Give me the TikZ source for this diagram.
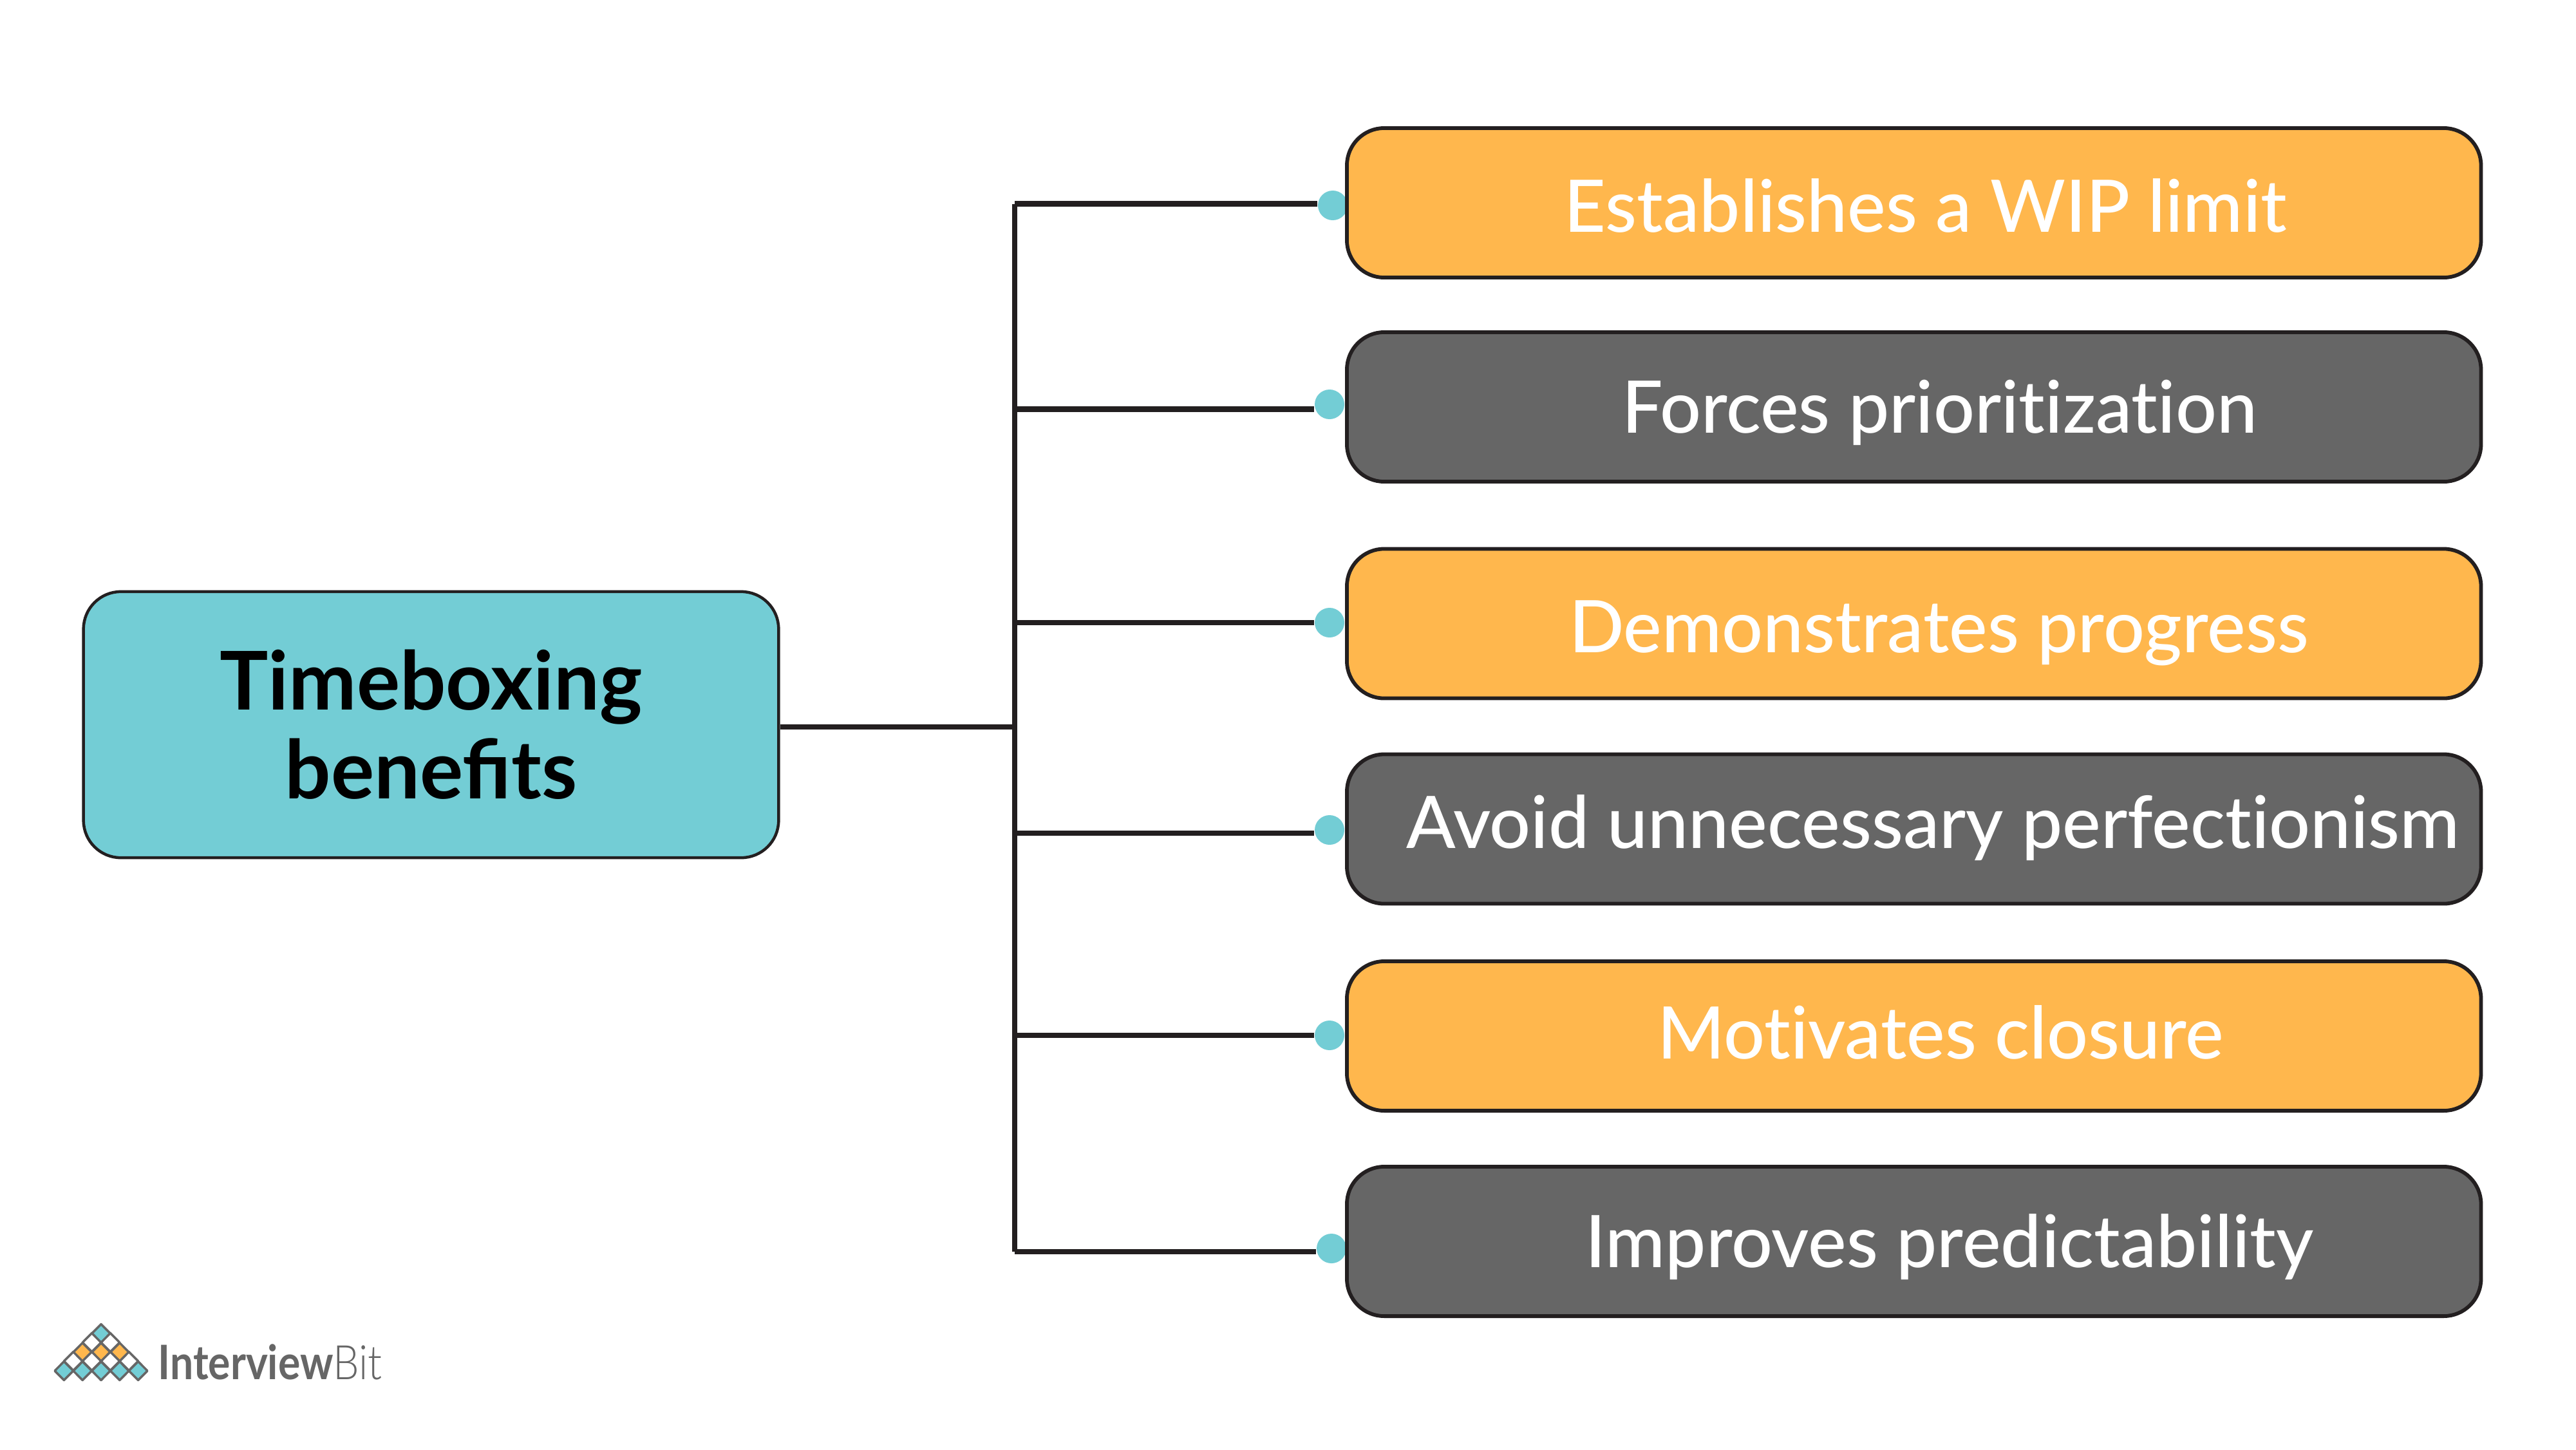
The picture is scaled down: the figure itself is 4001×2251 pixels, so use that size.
\documentclass[tikz,border=0pt]{standalone}
\usepackage{fontspec}
\setmainfont{Lato}
\newfontfamily\itemfont[Ligatures=NoCommon]{Lato Medium}
\newfontfamily\logofont[FakeStretch=0.87]{Lato}
\newfontfamily\logothin[FakeStretch=0.87]{Lato Light}
\definecolor{tealfill}{HTML}{73CDD5}
\definecolor{orangefill}{HTML}{FFB74D}
\definecolor{greyfill}{HTML}{666666}
\definecolor{inkline}{HTML}{231F20}
\tikzset{
	x=0.01cm,y=-0.01cm,
	itembox/.style={draw=inkline,line width=0.58mm,rounded corners=5.8mm,minimum width=176.05mm,minimum height=23.2mm,inner sep=0pt,text=white,text height=10mm,text depth=1mm,font=\fontsize{32}{38}\selectfont\itemfont},
	orangebox/.style={itembox,fill=orangefill},
	greybox/.style={itembox,fill=greyfill},
	rootbox/.style={draw=inkline,line width=0.45mm,rounded corners=5.8mm,fill=tealfill,minimum width=107.9mm,minimum height=41.3mm,align=center,font=\fontsize{35.8}{39.3}\selectfont\bfseries},
	tipdot/.style={circle,fill=tealfill,minimum size=4.6mm,inner sep=0pt},
	branch/.style={draw=inkline,line width=0.85mm},
	logocell/.style={draw=greyfill,line width=0.35mm,line join=round},
	logotext/.style={text=greyfill,inner sep=0pt,anchor=base west,font=\fontsize{21}{25}\selectfont},
}
\newcommand{\boxtext}[3]{\hspace*{#1mm}\raisebox{#2mm}{#3}}

\begin{document}
\begin{tikzpicture}
	\useasboundingbox[fill=white] (0,0) rectangle (4001,2251);

	\node[tipdot] (dota) at (2070,319) {};
	\node[tipdot] (dotb) at (2065,628) {};
	\node[tipdot] (dotc) at (2065,967) {};
	\node[tipdot] (dotd) at (2065,1289) {};
	\node[tipdot] (dote) at (2065,1608) {};
	\node[tipdot] (dotf) at (2068,1939) {};

	\node[orangebox] (limit) at (2972.7,315) {\boxtext{3.6}{0}{Establishes a WIP limit}};
	\node[greybox] (prior) at (2972.7,632) {\boxtext{7.9}{0.5}{Forces prioritization}};
	\node[orangebox] (progress) at (2972.7,968.5) {\boxtext{7.7}{0}{Demonstrates progress}};
	\node[greybox] (perfect) at (2972.7,1287.5) {\boxtext{5.9}{1.5}{Avoid unnecessary perfectionism}};
	\node[orangebox] (closure) at (2972.7,1609) {\boxtext{8.2}{1}{Motivates closure}};
	\node[greybox] (predict) at (2972.7,1928) {\boxtext{11}{0.5}{Improves predictability}};

	\node[rootbox] (root) at (669.5,1125.5) {Timeboxing\\benefits};

	\coordinate (trunktop) at (1576,316.5);
	\coordinate (trunkb) at (1576,635.5);
	\coordinate (trunkc) at (1576,967);
	\coordinate (trunkd) at (1576,1294);
	\coordinate (trunke) at (1576,1608);
	\coordinate (trunkbot) at (1576,1944);
	\coordinate (trunkmid) at (1576,1129);

	\draw[branch] (trunktop)--(trunkbot);
	\draw[branch] (root.east |- trunkmid)--(trunkmid);
	\draw[branch] (trunktop)--(trunktop -| dota.west);
	\draw[branch] (trunkb)--(trunkb -| dotb.west);
	\draw[branch] (trunkc)--(trunkc -| dotc.west);
	\draw[branch] (trunkd)--(trunkd -| dotd.west);
	\draw[branch] (trunke)--(trunke -| dote.west);
	\draw[branch] (trunkbot)--(trunkbot -| dotf.west);

	% logo
	\foreach \cx/\cy in {157/2071,99.4/2129,128.2/2129,157/2129,185.8/2129,214.6/2129}
		\draw[logocell,fill=tealfill] (\cx-14.4,\cy)--(\cx,\cy-14.5)--(\cx+14.4,\cy)--(\cx,\cy+14.5)--cycle;
	\foreach \cx/\cy in {128.2/2100,157/2100,185.8/2100}
		\draw[logocell,fill=orangefill] (\cx-14.4,\cy)--(\cx,\cy-14.5)--(\cx+14.4,\cy)--(\cx,\cy+14.5)--cycle;
	\foreach \cx/\cy in {142.6/2085,171.4/2085,113.8/2114,142.6/2114,171.4/2114,200.2/2114}
		\draw[logocell,fill=white] (\cx-14.4,\cy)--(\cx,\cy-14.5)--(\cx+14.4,\cy)--(\cx,\cy+14.5)--cycle;
	\node[logotext] (logoname) at (245,2142) {{\logofont\bfseries Interview}{\logothin Bit}};
\end{tikzpicture}
\end{document}
